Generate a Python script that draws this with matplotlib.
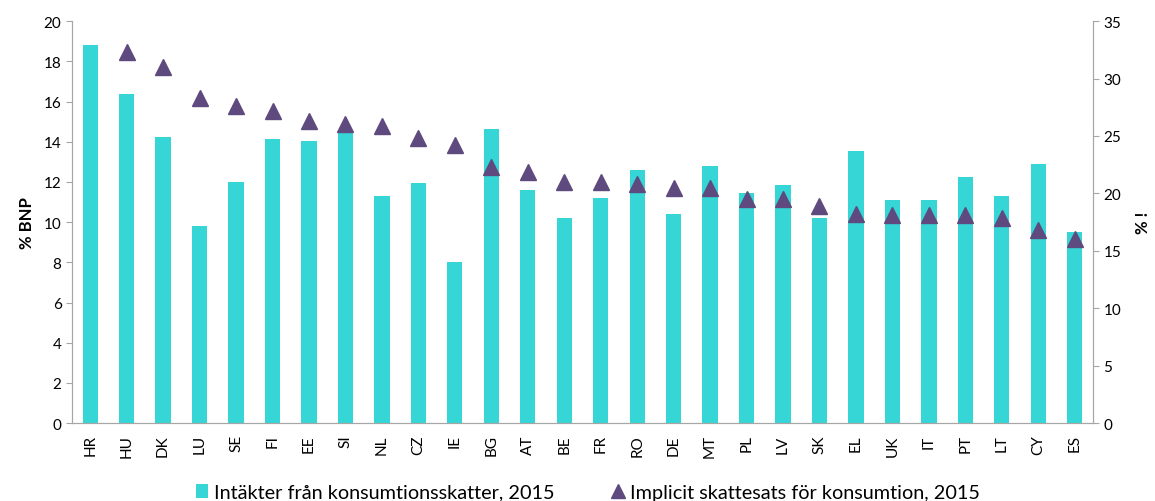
import matplotlib.pyplot as plt
import numpy as np

plt.rcParams['font.family'] = ['Lato', 'DejaVu Sans']

countries = ['HR', 'HU', 'DK', 'LU', 'SE', 'FI', 'EE', 'SI', 'NL', 'CZ', 'IE', 'BG', 'AT', 'BE',
             'FR', 'RO', 'DE', 'MT', 'PL', 'LV', 'SK', 'EL', 'UK', 'IT', 'PT', 'LT', 'CY', 'ES']

# revenue from consumption taxes, % of GDP
revenue = [18.8, 16.35, 14.25, 9.8, 12.0, 14.15, 14.05, 14.55, 11.3, 11.95, 8.0, 14.65, 11.6, 10.2,
           11.2, 12.6, 10.4, 12.8, 11.45, 11.85, 10.2, 13.55, 11.1, 11.1, 12.25, 11.3, 12.9, 9.5]

# implicit tax rate on consumption, % (no value for HR)
itr = [np.nan, 32.3, 31.0, 28.3, 27.6, 27.2, 26.3, 26.0, 25.9, 24.8, 24.2, 22.3, 21.9, 21.0,
       21.0, 20.8, 20.5, 20.5, 19.5, 19.5, 18.9, 18.2, 18.1, 18.1, 18.1, 17.9, 16.8, 16.0]

bar_color = '#36D6D6'
tri_color = '#5E4A7E'
spine_color = '#A6A6A6'

fig = plt.figure(figsize=(11.55, 5.02), dpi=100)
ax = fig.add_axes([0.0623, 0.155, 0.8840, 0.801])
ax2 = ax.twinx()

x = np.arange(len(countries))
ax.bar(x, revenue, width=0.42, color=bar_color, label='Intäkter från konsumtionsskatter, 2015', zorder=2)
ax2.plot(x, itr, linestyle='none', marker='^', markersize=11, color=tri_color,
         label='Implicit skattesats för konsumtion, 2015', zorder=3)

ax.set_xlim(-0.5, len(countries) - 0.5)
ax.set_ylim(0, 20)
ax.set_yticks(range(0, 21, 2))
ax2.set_ylim(0, 35)
ax2.set_yticks(range(0, 36, 5))

ax.set_xticks(x)
ax.set_xticklabels(countries, rotation=90, fontsize=11)
ax.tick_params(axis='x', length=0, pad=8)
ax.tick_params(axis='y', labelsize=11, length=4, color=spine_color)
ax2.tick_params(axis='y', labelsize=11, length=4, color=spine_color)

ax.set_ylabel('% BNP', fontsize=12, fontweight='bold', labelpad=6)
ax2.set_ylabel('% !', fontsize=12, fontweight='bold', labelpad=10)

for a in (ax, ax2):
    a.spines['top'].set_visible(False)
    for s in ('left', 'right', 'bottom'):
        a.spines[s].set_color(spine_color)
ax.set_zorder(ax2.get_zorder() - 1)
ax2.patch.set_visible(False)
ax.patch.set_visible(False)

h1, l1 = ax.get_legend_handles_labels()
h2, l2 = ax2.get_legend_handles_labels()
fig.legend(h1 + h2, l1 + l2, loc='lower center', bbox_to_anchor=(0.509, -0.035), ncols=2,
           frameon=False, fontsize=14.3, handlelength=0.6, handletextpad=0.3, columnspacing=2.9,
           markerscale=0.9)

fig.savefig('out.png', dpi=100)
